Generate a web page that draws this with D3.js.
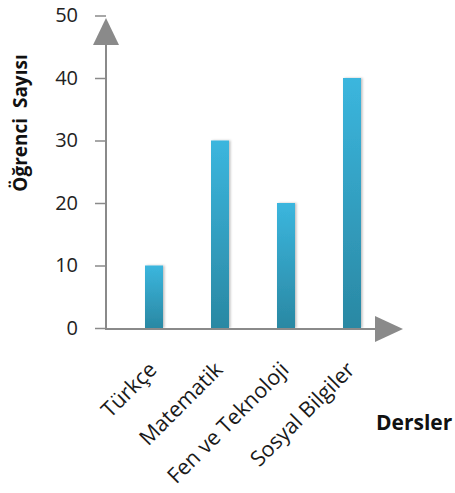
<!DOCTYPE html>
<html>
<head>
<meta charset="utf-8">
<script src="https://cdn.jsdelivr.net/npm/d3@7/dist/d3.min.js"></script>
<style>
  html, body { margin: 0; padding: 0; background: #fff; }
  svg { display: block; }
  text { font-family: "Open Sans", sans-serif; }
</style>
</head>
<body>
<svg id="chart" width="455" height="493"></svg>
<script>
const categories = ["Türkçe", "Matematik", "Fen ve Teknoloji", "Sosyal Bilgiler"];
const values = [10, 30, 20, 40];
const yTicks = [0, 10, 20, 30, 40, 50];
const yTitle = "Öğrenci  Sayısı";
const xTitle = "Dersler";

const svg = d3.select("#chart");
const x0 = 106, y0 = 328;
const y = d3.scaleLinear().domain([0, 50]).range([y0, 15.5]);
const x = d3.scaleBand().domain(categories).range([121, 385]).padding(0);
const barW = 18;

const defs = svg.append("defs");
const grad = defs.append("linearGradient").attr("id", "barGrad")
  .attr("x1", 0).attr("y1", 0).attr("x2", 0).attr("y2", 1);
grad.append("stop").attr("offset", "0%").attr("stop-color", "#3bb6de");
grad.append("stop").attr("offset", "100%").attr("stop-color", "#2a88a3");
const f = defs.append("filter").attr("id", "shadow").attr("x", "-30%").attr("y", "-10%").attr("width", "160%").attr("height", "120%");
f.append("feDropShadow").attr("dx", 1.5).attr("dy", 0).attr("stdDeviation", 1.2)
  .attr("flood-color", "#000").attr("flood-opacity", 0.25);

// Y axis
const yAxis = d3.axisLeft(y).tickValues(yTicks).tickSize(11).tickPadding(17).tickSizeOuter(0);
const gy = svg.append("g").attr("transform", `translate(${x0},0)`).call(yAxis);
gy.select(".domain").attr("stroke", "#8a8a8a").attr("stroke-width", 2)
  .attr("d", `M0,${y0}V44`);
gy.selectAll(".tick line").attr("stroke", "#8a8a8a").attr("stroke-width", 1.5);
gy.selectAll(".tick text").attr("fill", "#222").style("font-size", "20px")
  .style("font-family", "'Open Sans', sans-serif");

// bars
svg.append("g").selectAll("rect").data(values).enter().append("rect")
  .attr("x", (d, i) => x(categories[i]) + x.bandwidth() / 2 - barW / 2)
  .attr("y", d => y(d))
  .attr("width", barW)
  .attr("height", d => y0 - y(d))
  .attr("fill", "url(#barGrad)")
  .attr("filter", "url(#shadow)");

// X axis line
svg.append("line").attr("x1", x0 - 1).attr("x2", 376).attr("y1", y0 + 1).attr("y2", y0 + 1)
  .attr("stroke", "#8a8a8a").attr("stroke-width", 2);

// arrows
svg.append("path").attr("d", `M${x0},18L${x0 + 13},45L${x0 - 13},45Z`).attr("fill", "#8a8a8a");
svg.append("path").attr("d", `M403,${y0 + 1}L375,${y0 - 12}L375,${y0 + 14}Z`).attr("fill", "#8a8a8a");

// category labels
svg.append("g").selectAll("text").data(categories).enter().append("text")
  .attr("transform", d => `translate(${x(d) + x.bandwidth() / 2 + 4},371) rotate(-45)`)
  .attr("text-anchor", "end")
  .attr("fill", "#1a1a1a")
  .style("font-size", "21.5px")
  .text(d => d);

// titles
svg.append("text").attr("transform", "translate(27,123) rotate(-90)")
  .attr("text-anchor", "middle").attr("fill", "#111")
  .style("font-size", "19px").style("font-weight", "bold")
  .style("white-space", "pre").attr("xml:space", "preserve")
  .text(yTitle);
svg.append("text").attr("x", 376).attr("y", 430)
  .attr("fill", "#111").style("font-size", "21px").style("font-weight", "bold")
  .text(xTitle);
</script>
</body>
</html>
